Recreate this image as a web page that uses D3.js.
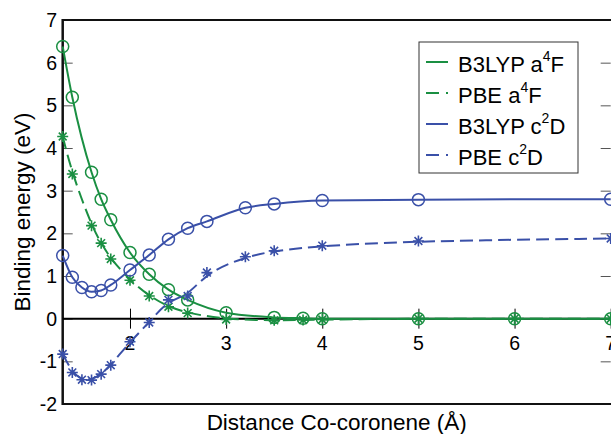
<!DOCTYPE html>
<html>
<head>
<meta charset="utf-8">
<script src="https://cdn.jsdelivr.net/npm/d3@7"></script>
<style>
  body { margin: 0; background: #fff; }
  text { font-family: "Liberation Sans", Arial, sans-serif; fill: #000; }
</style>
</head>
<body>
<svg width="611" height="434"></svg>
<script>
// distances (Å) for each series
var xA = [1.3, 1.4, 1.6, 1.7, 1.8, 2.0, 2.2, 2.4, 2.6, 3.0, 3.5, 3.8, 4.0, 5.0, 6.0, 7.0];
var xC = [1.3, 1.4, 1.5, 1.6, 1.7, 1.8, 2.0, 2.2, 2.4, 2.6, 2.8, 3.2, 3.5, 4.0, 5.0, 7.0];

var b3lypA = [6.38, 5.19, 3.43, 2.80, 2.32, 1.55, 1.04, 0.68, 0.44, 0.14, 0.03, 0.01, 0.0, 0.0, 0.0, 0.0];
var pbeA   = [4.27, 3.39, 2.18, 1.77, 1.40, 0.90, 0.53, 0.28, 0.13, -0.02, -0.04, -0.03, -0.02, 0.0, 0.0, 0.0];
var b3lypC = [1.48, 0.97, 0.73, 0.63, 0.66, 0.79, 1.14, 1.49, 1.86, 2.12, 2.28, 2.60, 2.69, 2.77, 2.79, 2.80];
var pbeC   = [-0.83, -1.26, -1.43, -1.44, -1.30, -1.09, -0.54, -0.09, 0.44, 0.53, 1.08, 1.45, 1.59, 1.71, 1.82, 1.88];

var xTicks = [2, 3, 4, 5, 6, 7];
var yTicks = [-2, -1, 0, 1, 2, 3, 4, 5, 6, 7];

var green = "#1a8f42", blue = "#3a50a8";

var series = [
  {name: "B3LYP a", sup: "4", tail: "F", xs: xA, ys: b3lypA, color: green, dash: null, marker: "circle", curve: d3.curveMonotoneX},
  {name: "PBE a", sup: "4", tail: "F", xs: xA, ys: pbeA, color: green, dash: "13,6", marker: "star", curve: d3.curveBasis},
  {name: "B3LYP c", sup: "2", tail: "D", xs: xC, ys: b3lypC, color: blue, dash: null, marker: "circle", curve: d3.curveMonotoneX},
  {name: "PBE c", sup: "2", tail: "D", xs: xC, ys: pbeC, color: blue, dash: "13,6", marker: "star", curve: d3.curveBasis}
];

var svg = d3.select("svg");

var x = d3.scaleLinear().domain([1.3, 7]).range([62.7, 610.7]);
var y = d3.scaleLinear().domain([-2, 7]).range([404, 20]);

// y ticks, both sides, pointing in
svg.append("g")
    .attr("transform", "translate(" + x(1.3) + ",0)")
    .call(d3.axisRight(y).tickValues(yTicks.filter(d => d > -2 && d < 7)).tickSize(10).tickFormat(""))
    .call(g => g.select(".domain").remove())
    .call(g => g.selectAll("line").attr("stroke", "#555"));
svg.append("g")
    .attr("transform", "translate(" + x(7) + ",0)")
    .call(d3.axisLeft(y).tickValues(yTicks.filter(d => d > -2 && d < 7)).tickSize(10).tickFormat(""))
    .call(g => g.select(".domain").remove())
    .call(g => g.selectAll("line").attr("stroke", "#555"));

// y tick labels
svg.append("g").selectAll("text")
  .data(yTicks)
  .enter().append("text")
    .attr("x", 57)
    .attr("y", d => y(d))
    .attr("dy", "0.36em")
    .attr("text-anchor", "end")
    .attr("font-size", 19.5)
    .text(d => d);

// frame
svg.append("line").attr("x1", x(1.3)).attr("x2", 611).attr("y1", y(7)).attr("y2", y(7))
    .attr("stroke", "#111").attr("stroke-width", 2);
svg.append("line").attr("x1", x(1.3)).attr("x2", 611).attr("y1", y(-2)).attr("y2", y(-2))
    .attr("stroke", "#111").attr("stroke-width", 2);
svg.append("line").attr("x1", x(1.3)).attr("x2", x(1.3)).attr("y1", y(7) - 1).attr("y2", y(-2) + 1)
    .attr("stroke", "#111").attr("stroke-width", 2.5);

// x axis on the zero line, ticks crossing it
var xa = svg.append("g")
    .attr("transform", "translate(0," + (y(0) - 10) + ")")
    .call(d3.axisBottom(x).tickValues(xTicks).tickSize(20).tickFormat(""));
xa.select(".domain").remove();
xa.selectAll("line").attr("stroke", "#000");

svg.append("line").attr("x1", x(1.3)).attr("x2", 611).attr("y1", y(0)).attr("y2", y(0))
    .attr("stroke", "#000").attr("stroke-width", 2);

svg.append("g").selectAll("text")
  .data(xTicks)
  .enter().append("text")
    .attr("x", d => x(d))
    .attr("y", y(0) + 31)
    .attr("text-anchor", "middle")
    .attr("font-size", 19.5)
    .text(d => d);

// curves and markers
var star = "M-5.5,0H5.5M0,-5.5V5.5M-3.9,-3.9L3.9,3.9M-3.9,3.9L3.9,-3.9";

series.forEach(function(s) {
  var pts = s.xs.map((v, i) => [v, s.ys[i]]);
  var line = d3.line().x(d => x(d[0])).y(d => y(d[1])).curve(s.curve);
  svg.append("path")
      .datum(pts)
      .attr("d", line)
      .attr("fill", "none")
      .attr("stroke", s.color)
      .attr("stroke-width", 2)
      .attr("stroke-dasharray", s.dash);
  var m = svg.append("g").selectAll("path")
    .data(pts)
    .enter();
  if (s.marker === "circle") {
    m.append("circle")
      .attr("cx", d => x(d[0]))
      .attr("cy", d => y(d[1]))
      .attr("r", 6)
      .attr("fill", "none")
      .attr("stroke", s.color)
      .attr("stroke-width", 1.5);
  } else {
    m.append("path")
      .attr("transform", d => "translate(" + x(d[0]) + "," + y(d[1]) + ")")
      .attr("d", star)
      .attr("fill", "none")
      .attr("stroke", s.color)
      .attr("stroke-width", 1.6);
  }
});

// axis titles
svg.append("text")
    .attr("x", (x(1.3) + x(7)) / 2)
    .attr("y", 430)
    .attr("text-anchor", "middle")
    .attr("font-size", 22.5)
    .text("Distance Co-coronene (Å)");

svg.append("text")
    .attr("transform", "translate(30," + (y(7) + y(-2)) / 2 + ") rotate(-90)")
    .attr("text-anchor", "middle")
    .attr("font-size", 22.5)
    .text("Binding energy (eV)");

// legend
var lg = svg.append("g").attr("transform", "translate(419,42)");
lg.append("rect")
    .attr("width", 159).attr("height", 131)
    .attr("fill", "#fff").attr("stroke", "#333").attr("stroke-width", 1);

var row = lg.selectAll("g.row")
  .data(series)
  .enter().append("g")
    .attr("class", "row")
    .attr("transform", (d, i) => "translate(0," + (20 + i * 31) + ")");

row.append("line")
    .attr("x1", 7).attr("x2", 29)
    .attr("stroke", d => d.color)
    .attr("stroke-width", 2)
    .attr("stroke-dasharray", d => d.dash ? "13,7,2,20" : null);

var t = row.append("text")
    .attr("x", 39)
    .attr("y", 10)
    .attr("font-size", 22);
t.append("tspan").text(d => d.name);
t.append("tspan").attr("font-size", 14).attr("dy", -11).text(d => d.sup);
t.append("tspan").attr("dy", 11).text(d => d.tail);
</script>
</body>
</html>
